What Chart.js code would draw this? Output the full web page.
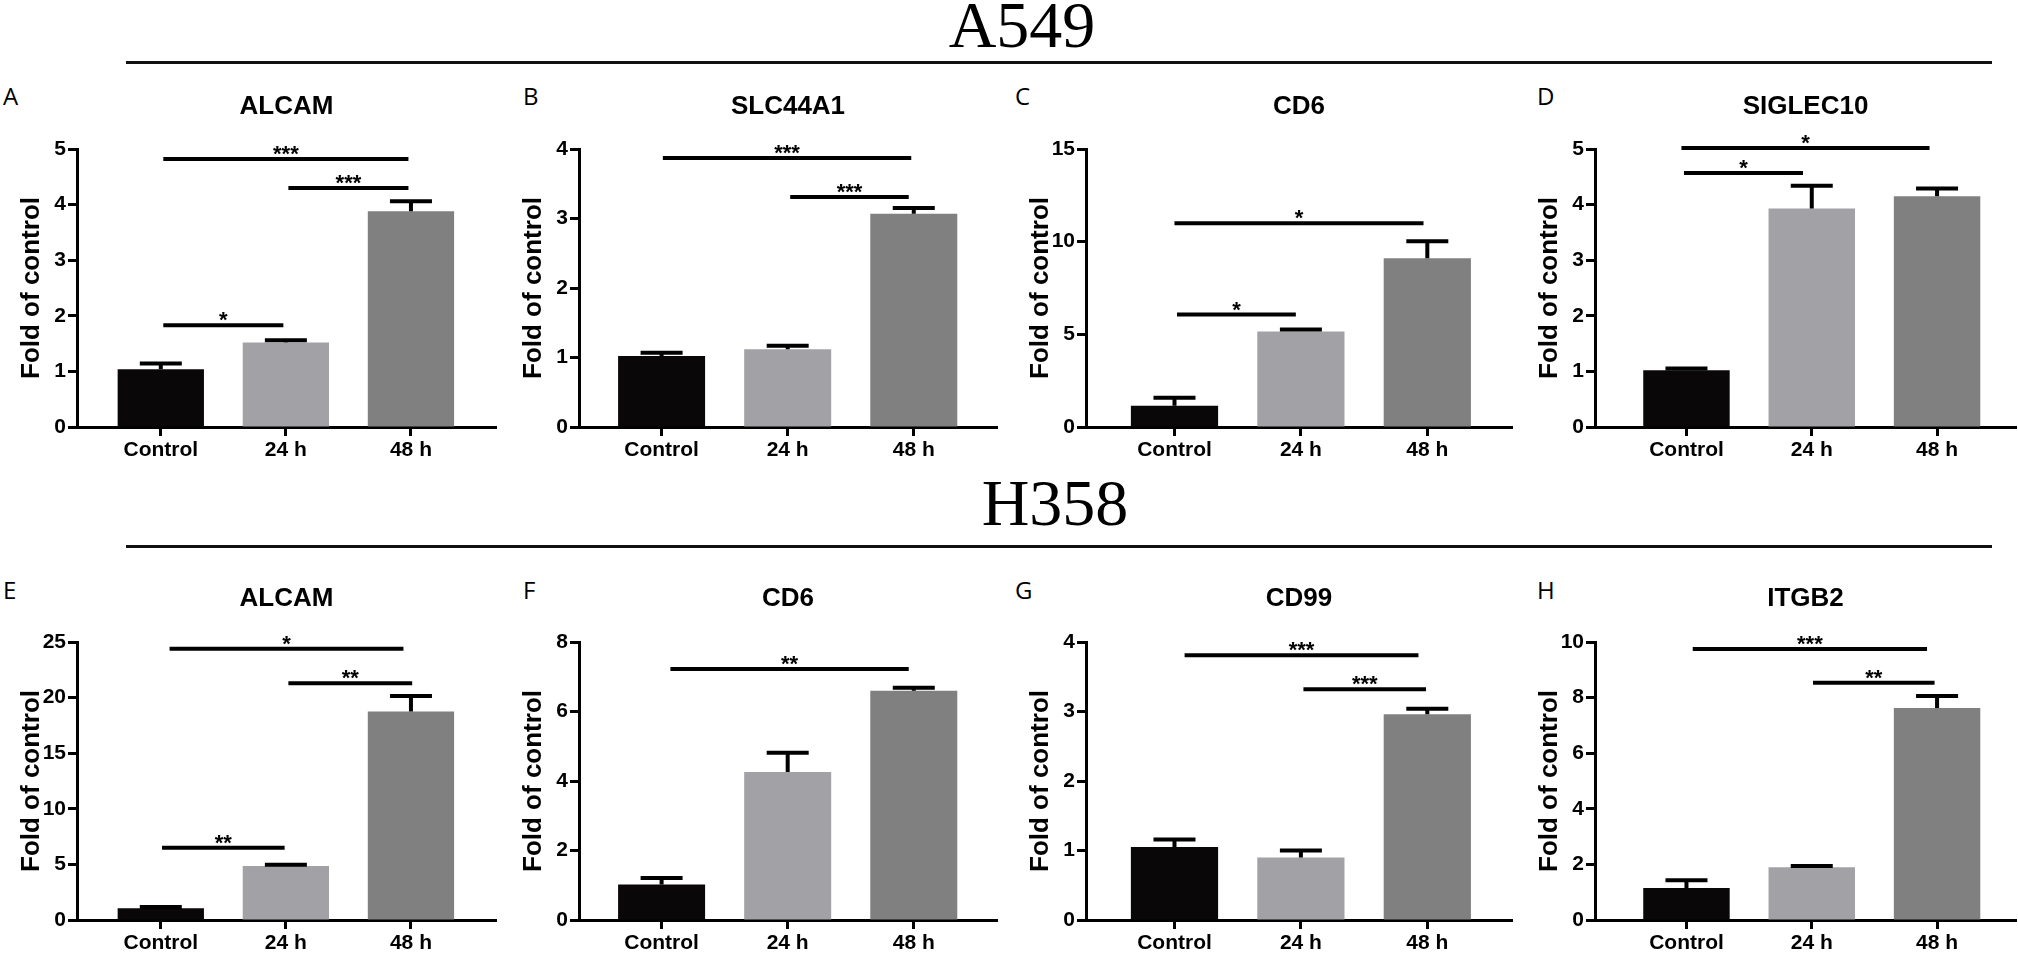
<!DOCTYPE html>
<html>
<head>
<meta charset="utf-8">
<script src="https://cdn.jsdelivr.net/npm/chart.js@4.4.1/dist/chart.umd.min.js"></script>
<style>
html, body { margin: 0; padding: 0; background: #fff; overflow: hidden; }
body { width: 2018px; height: 953px; position: relative; }
.heading { position: absolute; width: 400px; text-align: center; font-family: "Liberation Serif", "Times New Roman", serif; font-size: 66px; line-height: 1; color: #000; }
.rule { position: absolute; left: 126px; width: 1866px; height: 3px; background: #111; }
.letter { position: absolute; font-family: "Open Sans", sans-serif; font-size: 24px; line-height: 1; color: #000; }
.panel { position: absolute; }
</style>
</head>
<body>
<div class="heading" style="left:822px; top:-8px">A549</div>
<div class="rule" style="top:61px"></div>
<div class="heading" style="left:855px; top:470px">H358</div>
<div class="rule" style="top:545px"></div>
<div id="figure"></div>

<script>
// x categories
var groups = ['Control', '24 h', '48 h'];

// one entry per panel, A..H
var letters = ['A', 'B', 'C', 'D', 'E', 'F', 'G', 'H'];
var genes = ['ALCAM', 'SLC44A1', 'CD6', 'SIGLEC10', 'ALCAM', 'CD6', 'CD99', 'ITGB2'];
var yMax = [5, 4, 15, 5, 25, 8, 4, 10];
var yStep = [1, 1, 5, 1, 5, 2, 1, 2];

// bar heights (fold of control)
var means = [
  [1.04, 1.52, 3.88],
  [1.02, 1.12, 3.07],
  [1.14, 5.15, 9.10],
  [1.02, 3.93, 4.15],
  [1.05, 4.85, 18.75],
  [1.02, 4.26, 6.60],
  [1.05, 0.90, 2.96],
  [1.15, 1.90, 7.63]
];

// upper error bars
var sems = [
  [0.10, 0.04, 0.18],
  [0.05, 0.05, 0.08],
  [0.44, 0.11, 0.92],
  [0.03, 0.41, 0.14],
  [0.12, 0.12, 1.40],
  [0.19, 0.55, 0.08],
  [0.11, 0.10, 0.08],
  [0.28, 0.04, 0.43]
];

// significance brackets: [from group, to group, height, stars]
var brackets = [
  [[0.02, 1.98, 4.82, '***'], [1.02, 1.98, 4.30, '***'], [0.02, 0.98, 1.83, '*']],
  [[0.01, 1.98, 3.87, '***'], [1.02, 1.96, 3.31, '***']],
  [[0.00, 1.97, 11.0, '*'], [0.02, 0.96, 6.07, '*']],
  [[-0.04, 1.94, 5.02, '*'], [-0.02, 0.93, 4.57, '*']],
  [[0.07, 1.94, 24.4, '*'], [1.02, 2.01, 21.3, '**'], [0.01, 0.99, 6.5, '**']],
  [[0.07, 1.96, 7.22, '**']],
  [[0.08, 1.93, 3.81, '***'], [1.02, 1.99, 3.32, '***']],
  [[0.05, 1.92, 9.75, '***'], [1.01, 1.98, 8.53, '**']]
];

var barColors = ['#0a0708', '#a2a1a6', '#808080'];

// layout of the 4 columns / 2 rows
var colAxisX = [77, 579, 1086, 1595];
var colPlotW = [419, 418, 426, 421];
var colXMin = [-0.67, -0.655, -0.70, -0.73];
var colXMax = [2.68, 2.66, 2.67, 2.63];
var colLetterX = [3, 523, 1015, 1537];
var rowTop = [75, 567];
var rowPlotTop = [149, 642];
var rowPlotBottom = [427, 920];
var rowHeight = [400, 386];
var rowLetterTop = [84, 578];

var sans = '"Liberation Sans", Arial, sans-serif';

var decor = {
  id: 'decor',
  afterDatasetsDraw: function(chart, args, opts) {
    var ctx = chart.ctx;
    var x = chart.scales.x, y = chart.scales.y;
    var p = opts.panel;
    var meta = chart.getDatasetMeta(0);

    ctx.save();
    ctx.strokeStyle = '#000';
    ctx.fillStyle = '#000';
    ctx.lineWidth = 4;

    // error bars
    meta.data.forEach(function(bar, k) {
      var top = y.getPixelForValue(means[p][k] + sems[p][k]);
      ctx.beginPath();
      ctx.moveTo(bar.x, bar.y);
      ctx.lineTo(bar.x, top);
      ctx.moveTo(bar.x - 21, top);
      ctx.lineTo(bar.x + 21, top);
      ctx.stroke();
    });

    // brackets + stars
    ctx.font = 'bold 22px ' + sans;
    ctx.textAlign = 'center';
    ctx.textBaseline = 'alphabetic';
    brackets[p].forEach(function(b) {
      var x1 = x.getPixelForValue(b[0]);
      var x2 = x.getPixelForValue(b[1]);
      var py = y.getPixelForValue(b[2]);
      ctx.beginPath();
      ctx.moveTo(x1, py);
      ctx.lineTo(x2, py);
      ctx.stroke();
      ctx.fillText(b[3], (x1 + x2) / 2, py + 2);
    });

    // panel title
    var ca = chart.chartArea;
    ctx.font = 'bold 26px ' + sans;
    ctx.fillText(genes[p], (ca.left + ca.right) / 2, 39);
    ctx.restore();
  }
};

function makePanel(p) {
  var c = p % 4, r = Math.floor(p / 4);
  var fig = document.getElementById('figure');

  var lt = document.createElement('div');
  lt.className = 'letter';
  lt.style.left = colLetterX[c] + 'px';
  lt.style.top = rowLetterTop[r] + 'px';
  lt.textContent = letters[p];
  fig.appendChild(lt);

  var left = colAxisX[c] - 77;
  var w = 77 + colPlotW[c] + 2;
  var h = rowHeight[r];
  var box = document.createElement('div');
  box.className = 'panel';
  box.style.left = left + 'px';
  box.style.top = rowTop[r] + 'px';
  var cv = document.createElement('canvas');
  cv.width = w;
  cv.height = h;
  cv.style.width = w + 'px';
  cv.style.height = h + 'px';
  box.appendChild(cv);
  fig.appendChild(box);

  var xHeight = h - (rowPlotBottom[r] - rowTop[r]);

  new Chart(cv, {
    type: 'bar',
    data: {
      datasets: [{
        data: means[p].map(function(v, k) { return {x: k, y: v}; }),
        backgroundColor: barColors,
        borderWidth: 0,
        barPercentage: 0.69,
        categoryPercentage: 1
      }]
    },
    options: {
      responsive: false,
      animation: false,
      devicePixelRatio: 1,
      layout: {padding: {top: rowPlotTop[r] - rowTop[r], right: 2, bottom: 0, left: 0}},
      plugins: {
        legend: {display: false},
        tooltip: {enabled: false},
        decor: {panel: p}
      },
      scales: {
        x: {
          type: 'linear',
          min: colXMin[c],
          max: colXMax[c],
          offset: false,
          afterBuildTicks: function(s) {
            s.ticks = [0, 1, 2].map(function(v) { return {value: v}; });
          },
          ticks: {
            callback: function(v) { return groups[v]; },
            font: {family: sans, size: 21, weight: 'bold'},
            color: '#000',
            padding: 2,
            maxRotation: 0,
            autoSkip: false
          },
          grid: {drawOnChartArea: false, offset: false, tickLength: 9, tickWidth: 3, color: '#000', tickColor: '#000'},
          border: {display: true, color: '#000', width: 3},
          afterFit: function(s) { s.height = xHeight; }
        },
        y: {
          min: 0,
          max: yMax[p],
          ticks: {
            stepSize: yStep[p],
            font: {family: sans, size: 21, weight: 'bold'},
            color: '#000',
            padding: 2
          },
          grid: {drawOnChartArea: false, tickLength: 9, tickWidth: 3, color: '#000', tickColor: '#000'},
          border: {display: true, color: '#000', width: 3},
          title: {
            display: true,
            text: 'Fold of control',
            color: '#000',
            font: {family: sans, size: 26, weight: 'bold', lineHeight: 1},
            padding: {top: 19, bottom: 0}
          },
          afterFit: function(s) { s.width = 77; }
        }
      }
    },
    plugins: [decor]
  });
}

for (var p = 0; p < 8; p++) makePanel(p);
</script>
</body>
</html>
